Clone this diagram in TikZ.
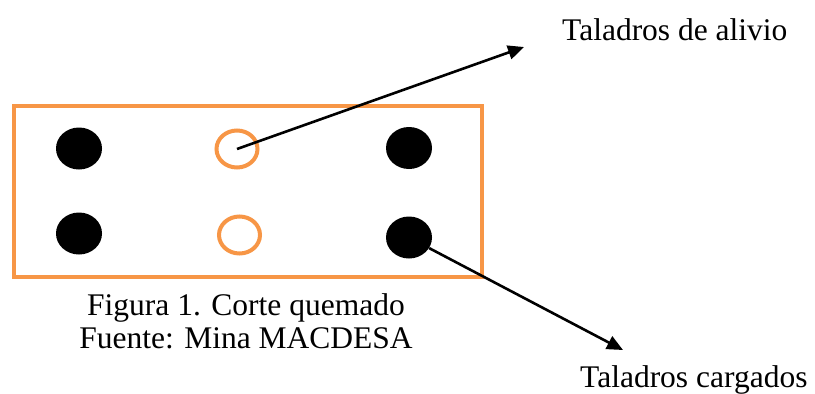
\documentclass[tikz,border=0pt]{standalone}
\usepackage{fontspec}
\setmainfont{Liberation Serif}
\usetikzlibrary{shapes.geometric,arrows.meta}
\definecolor{borange}{HTML}{F79646}
\begin{document}
\begin{tikzpicture}[x=1pt,y=-1pt,
  dot/.style={ellipse,fill=black,minimum width=46pt,minimum height=42pt,inner sep=0pt},
  ring/.style={ellipse,draw=borange,line width=4pt,minimum width=41pt,minimum height=37pt,inner sep=0pt},
  lbl/.style={inner sep=0pt,font=\fontsize{31.5}{33}\selectfont},
  arr/.style={line width=2.6pt,-{Triangle[length=16pt,width=14pt]}}]
\useasboundingbox (0,0) rectangle (815,394);
\node[draw=borange,line width=4pt,minimum width=468pt,minimum height=171pt,inner sep=0pt] (box) at (247.5,191) {};
\node[dot] (d1) at (79,148.5) {};
\node[dot] (d2) at (79,233.5) {};
\node[dot] (d3) at (409,148) {};
\node[dot] (d4) at (409,237.5) {};
\node[ring] (r1) at (237,149) {};
\node[ring] (r2) at (239.5,235) {};
\coordinate (t1) at (524,47);
\coordinate (t2) at (623,350);
\node[lbl,anchor=base west] (l1) at (562,40) {Taladros de alivio};
\node[lbl,anchor=base west] (l2) at (580,387) {Taladros cargados};
\node[lbl,anchor=base] (c1) at (246,315) {Figura 1. Corte quemado};
\node[lbl,anchor=base] (c2) at (246,348) {Fuente: Mina MACDESA};
\draw[arr] (r1.center) -- (t1);
\draw[arr] (d4) -- (t2);
\end{tikzpicture}
\end{document}
